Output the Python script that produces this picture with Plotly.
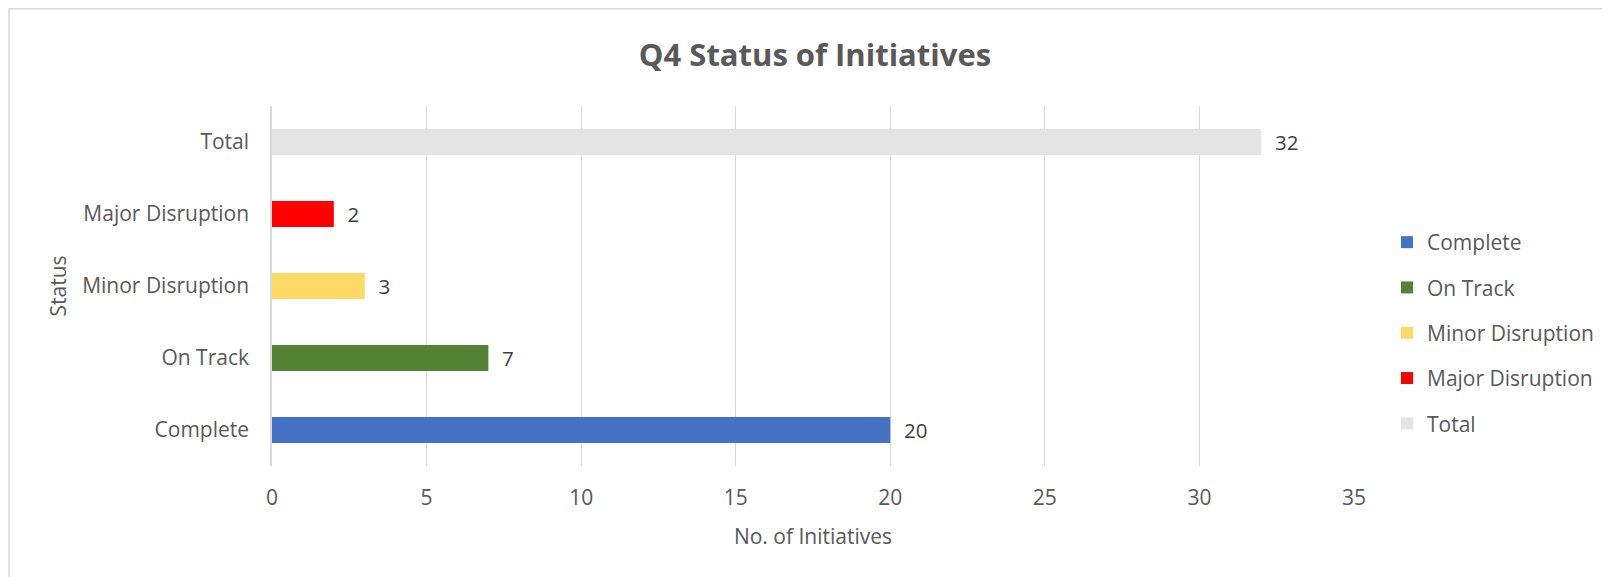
import plotly.graph_objects as go

categories = ["Complete", "On Track", "Minor Disruption", "Major Disruption", "Total"]
values = [20, 7, 3, 2, 32]
colors = ["#4472C4", "#548235", "#FFD966", "#FF0000", "#E4E4E4"]
x_ticks = [0, 5, 10, 15, 20, 25, 30, 35]

W, H = 1610, 577
OFF = 8  # page body margin
L, T = 272 - OFF, 106 - OFF
PW, PH = 1082, 360
R, B = W - L - PW, H - T - PH
FONT = "Open Sans"
TXT = "#595959"

fig = go.Figure()
for i, (cat, val, col) in enumerate(zip(categories, values, colors)):
    fig.add_trace(go.Bar(
        x=[val], y=[cat], orientation="h", name=cat,
        marker=dict(color=col, line=dict(width=0)),
        width=0.36,
        text=[f"\u00a0\u00a0{val}"], textposition="outside",
        constraintext="none",
        textfont=dict(family=FONT, size=20.5, color="#404040"),
        cliponaxis=False, legendgroup=cat,
    ))

def px2x(px):
    return (px - L) / PW
def py2y(py):
    return (H - B - py) / PH

fig.update_layout(
    width=W, height=H,
    margin=dict(l=L, r=R, t=T, b=B, autoexpand=False),
    paper_bgcolor="white", plot_bgcolor="white",
    barmode="overlay",
    font=dict(family=FONT, color=TXT, size=21),
    title=dict(text="<b>Q4 Status of Initiatives</b>", x=807 / W, xref="container",
               xanchor="center", y=1 - 47 / H, yref="container", yanchor="middle",
               font=dict(family=FONT, size=31, color=TXT)),
    xaxis=dict(range=[0, 35], tickvals=x_ticks, showgrid=True, gridcolor="#D9D9D9",
               gridwidth=1, zeroline=False, showline=False, automargin=False,
               tickfont=dict(family=FONT, size=21, color=TXT),
               ticklabelstandoff=17,
               title=dict(text="No. of Initiatives", standoff=19,
                          font=dict(family=FONT, size=21, color=TXT))),
    yaxis=dict(categoryorder="array", categoryarray=categories, automargin=False,
               showgrid=False, zeroline=False, showline=True, linecolor="#D9D9D9",
               linewidth=1.5,
               tickfont=dict(family=FONT, size=21, color=TXT),
               ticklabelstandoff=17,
               title=dict(text="Status", standoff=10,
                          font=dict(family=FONT, size=21, color=TXT))),
    legend=dict(x=1379 / W, xref="container", xanchor="left",
                y=1 - 214 / H, yref="container", yanchor="top",
                font=dict(family=FONT, size=21, color=TXT),
                tracegroupgap=15, itemclick=False, bgcolor="rgba(0,0,0,0)"),
    showlegend=True,
    shapes=[dict(type="rect", xref="paper", yref="paper",
                 x0=px2x(1), x1=px2x(1700), y0=py2y(700), y1=py2y(0.75),
                 line=dict(color="#D9D9D9", width=1.5), layer="below")],
)

fig.write_html("out.html")
